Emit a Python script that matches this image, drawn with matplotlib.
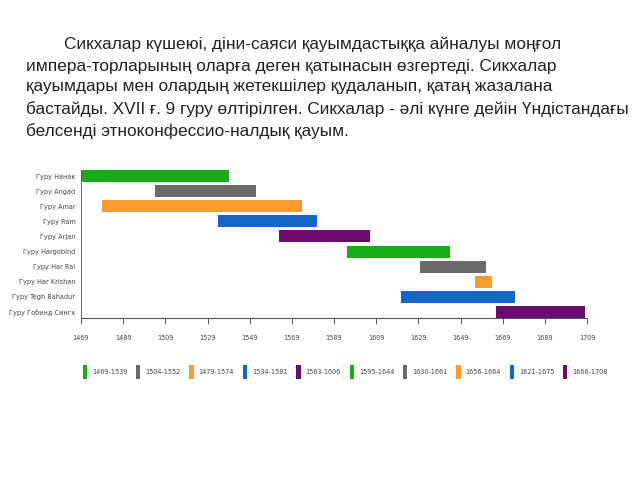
import matplotlib
matplotlib.use("Agg")
import matplotlib.pyplot as plt
from matplotlib.patches import Patch

# gurus and their years
gurus = ["Гуру Нанак", "Гуру Angad", "Гуру Amar", "Гуру Ram", "Гуру Arjan",
         "Гуру Hargobind", "Гуру Har Rai", "Гуру Har Krishan",
         "Гуру Tegh Bahadur", "Гуру Гобинд Сингх"]
start = [1469, 1504, 1479, 1534, 1563, 1595, 1630, 1656, 1621, 1666]
end = [1539, 1552, 1574, 1581, 1606, 1644, 1661, 1664, 1675, 1708]
xticks = [1469, 1489, 1509, 1529, 1549, 1569, 1589, 1609, 1629, 1649, 1669, 1689, 1709]

colors = ["#18ad18", "#696969", "#f99b2e", "#1466c6", "#6c0a6e"] * 2

text_lines = [
    "Сикхалар күшеюі, діни-саяси қауымдастыққа айналуы моңғол",
    "импера-торларының оларға деген қатынасын өзгертеді. Сикхалар",
    "қауымдары мен олардың жетекшілер қудаланып, қатаң жазалана",
    "бастайды. XVII ғ. 9 гуру өлтірілген. Сикхалар - әлі күнге дейін Үндістандағы",
    "белсенді этноконфессио-налдық қауым.",
]

fig = plt.figure(figsize=(6.4, 4.8), dpi=100)

# paragraph on top
ys = [44, 66, 87, 109, 131]
for i, line in enumerate(text_lines):
    x0 = 64 if i == 0 else 26
    fig.text(x0 / 640, 1 - ys[i] / 480, line, fontsize=12.4, family="Liberation Sans",
             color="#222222", va="center", ha="left")

ax = fig.add_axes([81 / 640, 1 - 318 / 480, 506 / 640, 148 / 480])
tick_font = {"family": "DejaVu Sans", "stretch": "condensed", "size": 5.2}
for i in range(len(gurus)):
    ax.barh(i, end[i] - start[i], left=start[i], height=0.8, color=colors[i])

ax.set_xlim(1469, 1709)
ax.set_ylim(9.4, -0.4)
ax.set_yticks(range(len(gurus)))
ax.set_yticklabels(gurus, color="#444444", **tick_font)
ax.set_xticks(xticks)
ax.set_xticklabels([str(t) for t in xticks], color="#444444", **tick_font)
ax.tick_params(axis="y", length=0, pad=4)
ax.tick_params(axis="x", length=4, width=0.6, color="#444444", pad=8)
for s in ["top", "right"]:
    ax.spines[s].set_visible(False)
ax.spines["left"].set_color("#555555")
ax.spines["bottom"].set_color("#555555")
ax.spines["left"].set_linewidth(0.6)
ax.spines["bottom"].set_linewidth(0.8)

handles = [Patch(facecolor=colors[i], edgecolor="none") for i in range(len(gurus))]
labels = [f"{start[i]}-{end[i]}" for i in range(len(gurus))]
fig.legend(handles, labels, loc="center left", bbox_to_anchor=(76 / 640, 1 - 372 / 480),
           ncol=10, frameon=False, handlelength=0.6, handleheight=2.8,
           handletextpad=0.7, columnspacing=1.2, prop=tick_font,
           labelcolor="#444444")

fig.savefig("out.png", dpi=100, facecolor="white")
